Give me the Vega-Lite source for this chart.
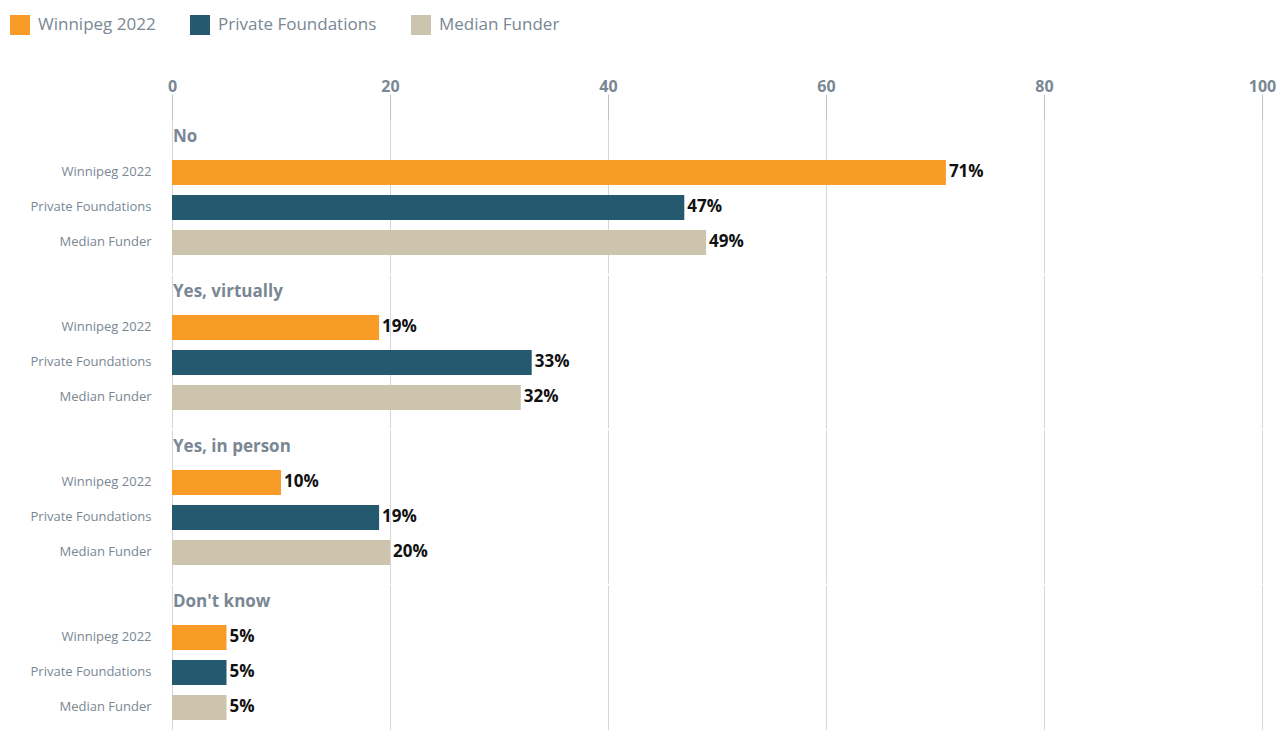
{
  "$schema": "https://vega.github.io/schema/vega-lite/v6.json",
  "background": "white",
  "padding": {"left": 10, "right": 5, "top": 15, "bottom": 0},
  "data": {
    "values": [
      {"question": "No", "series": "Winnipeg 2022", "value": 71, "label": "71%"},
      {"question": "No", "series": "Private Foundations", "value": 47, "label": "47%"},
      {"question": "No", "series": "Median Funder", "value": 49, "label": "49%"},
      {"question": "Yes, virtually", "series": "Winnipeg 2022", "value": 19, "label": "19%"},
      {"question": "Yes, virtually", "series": "Private Foundations", "value": 33, "label": "33%"},
      {"question": "Yes, virtually", "series": "Median Funder", "value": 32, "label": "32%"},
      {"question": "Yes, in person", "series": "Winnipeg 2022", "value": 10, "label": "10%"},
      {"question": "Yes, in person", "series": "Private Foundations", "value": 19, "label": "19%"},
      {"question": "Yes, in person", "series": "Median Funder", "value": 20, "label": "20%"},
      {"question": "Don't know", "series": "Winnipeg 2022", "value": 5, "label": "5%"},
      {"question": "Don't know", "series": "Private Foundations", "value": 5, "label": "5%"},
      {"question": "Don't know", "series": "Median Funder", "value": 5, "label": "5%"}
    ]
  },
  "facet": {
    "row": {
      "field": "question",
      "type": "nominal",
      "sort": ["No", "Yes, virtually", "Yes, in person", "Don't know"],
      "header": null
    }
  },
  "spacing": 2,
  "resolve": {"scale": {"y": "shared"}},
  "spec": {
    "width": 1090,
    "height": 153,
    "layer": [
      {
        "mark": {"type": "bar"},
        "encoding": {
          "x": {
            "field": "value",
            "type": "quantitative",
            "scale": {"domain": [0, 100], "nice": false},
            "axis": {
              "orient": "top",
              "values": [0, 20, 40, 60, 80, 100],
              "title": null,
              "domain": false,
              "grid": true,
              "gridColor": "#d6d6d6",
              "ticks": true,
              "tickSize": 26,
              "tickColor": "#b9c3cb",
              "labelPadding": 0,
              "labelFont": "Open Sans",
              "labelFontSize": 16,
              "labelFontWeight": "bold",
              "labelColor": "#7a8794",
              "labelFlush": false
            }
          },
          "y": {
            "field": "series",
            "type": "nominal",
            "scale": {
              "domain": [" ", "Winnipeg 2022", "Private Foundations", "Median Funder"],
              "paddingInner": 0.286,
              "paddingOuter": 0.3287,
              "align": 0.2174
            },
            "axis": {
              "title": null,
              "domain": false,
              "ticks": false,
              "labelPadding": 21,
              "labelFont": "Open Sans",
              "labelFontSize": 13,
              "labelColor": "#7a8794"
            }
          },
          "color": {
            "field": "series",
            "type": "nominal",
            "scale": {
              "domain": ["Winnipeg 2022", "Private Foundations", "Median Funder"],
              "range": ["#f89c27", "#245970", "#cdc4ae"]
            },
            "legend": {
              "title": null,
              "orient": "none",
              "direction": "horizontal",
              "legendX": -162,
              "legendY": -105,
              "symbolType": "square",
              "symbolSize": 400,
              "symbolStrokeWidth": 0,
              "symbolOpacity": 1,
              "labelFont": "Open Sans",
              "labelFontSize": 17,
              "labelColor": "#7a8794",
              "labelOffset": 8,
              "columnPadding": 34
            }
          }
        }
      },
      {
        "mark": {"type": "text", "align": "left", "baseline": "middle", "dx": 3, "font": "Open Sans", "fontSize": 17, "fontWeight": "bold", "color": "#111111"},
        "encoding": {
          "x": {"field": "value", "type": "quantitative"},
          "y": {"field": "series", "type": "nominal"},
          "text": {"field": "label"}
        }
      },
      {
        "transform": [{"filter": "datum.series == 'Winnipeg 2022'"}],
        "mark": {"type": "text", "align": "left", "baseline": "middle", "dx": 1, "font": "Open Sans", "fontSize": 17, "fontWeight": "bold", "color": "#7a8794"},
        "encoding": {
          "x": {"datum": 0},
          "y": {"datum": " "},
          "text": {"field": "question"}
        }
      }
    ]
  },
  "config": {
    "view": {"stroke": null},
    "font": "Open Sans"
  }
}
